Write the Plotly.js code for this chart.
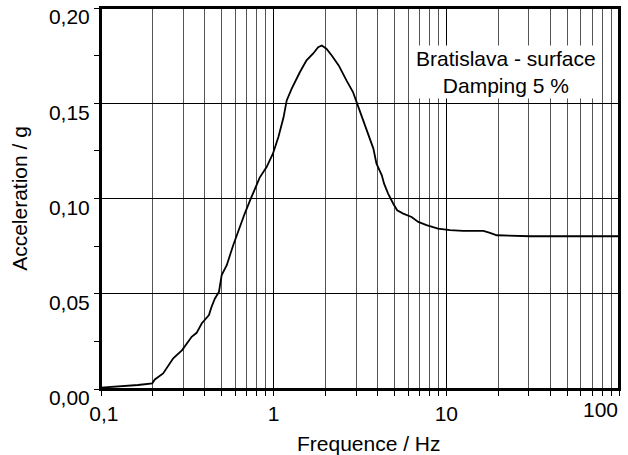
<!DOCTYPE html>
<html>
<head>
<meta charset="utf-8">
<script src="https://cdn.plot.ly/plotly-3.0.1.min.js"></script>
<style>
  html, body { margin: 0; padding: 0; background: #fff; }
  #chart { width: 628px; height: 455px; }
</style>
</head>
<body>
<div id="chart"></div>
<script>
// Response spectrum, Bratislava - surface, damping 5 %
const freq = [0.1, 0.12, 0.144, 0.164, 0.198, 0.205, 0.229, 0.24, 0.262, 0.295,
  0.335, 0.358, 0.383, 0.422, 0.437, 0.457, 0.482, 0.50, 0.535, 0.583,
  0.636, 0.68, 0.73, 0.78, 0.83, 0.91, 0.99, 1.065, 1.14, 1.19,
  1.27, 1.42, 1.55, 1.69, 1.81, 1.90, 2.02, 2.17, 2.38, 2.64,
  2.88, 3.07, 3.3, 3.53, 3.78, 3.94, 4.23, 4.36, 4.6, 4.92,
  5.19, 5.63, 6.29, 6.88, 7.68, 8.95, 10.5, 12.5, 16.4, 17.9,
  19.6, 30.6, 100];
const accel = [0.0007, 0.0012, 0.0014, 0.0021, 0.003, 0.005, 0.0082, 0.0108, 0.0161, 0.0204,
  0.0274, 0.0295, 0.0344, 0.0388, 0.0432, 0.0475, 0.051, 0.0598, 0.065, 0.0755,
  0.0851, 0.0921, 0.099, 0.105, 0.111, 0.1165, 0.1235, 0.1323, 0.1425, 0.1515,
  0.1576, 0.1664, 0.1725, 0.176, 0.1794, 0.1803, 0.1786, 0.1751, 0.1699, 0.162,
  0.1559, 0.1489, 0.141, 0.134, 0.1262, 0.1183, 0.1122, 0.1078, 0.1026, 0.0974,
  0.0938, 0.0921, 0.0903, 0.0877, 0.086, 0.0842, 0.0834, 0.083, 0.083, 0.082,
  0.0807, 0.0802, 0.0802];

const xMajorTicks = [0.1, 1, 10, 100];
const xMajorLabels = ['\u00a00,1', '1', '10', ''];
const xEdgeLabel = '100';          // last decade label, right-aligned to the axis end
const xEdgeValue = 100;
const xMinorTicks = [0.2, 0.3, 0.4, 0.5, 0.6, 0.7, 0.8, 0.9,
  2, 3, 4, 5, 6, 7, 8, 9,
  20, 30, 40, 50, 60, 70, 80, 90];
const yMajorTicks = [0, 0.05, 0.10, 0.15, 0.20];
const yMajorLabels = ['0,00', '0,05', '0,10', '0,15', '0,20'];
const yMinorTicks = [0.025, 0.075, 0.125, 0.175];

const xTitle = '&nbsp;&nbsp;&nbsp;Frequence / Hz';
const yTitle = 'Acceleration / g';
const noteText = 'Bratislava - surface<br>Damping 5 %';

const FONT = 'Liberation Sans, Arial, Helvetica, sans-serif';
const FS = 21;

const trace = {
  x: freq,
  y: accel,
  type: 'scatter',
  mode: 'lines',
  line: { color: '#000', width: 1.8 },
  hoverinfo: 'skip',
  showlegend: false
};

const layout = {
  width: 628,
  height: 455,
  margin: { l: 101, r: 9, t: 8, b: 66 },
  paper_bgcolor: '#fff',
  plot_bgcolor: '#fff',
  font: { family: FONT, size: FS, color: '#000' },
  xaxis: {
    type: 'log',
    range: [-1, 2.00001],
    tickmode: 'array',
    tickvals: xMajorTicks,
    ticktext: xMajorLabels,
    ticks: 'outside',
    ticklen: 5,
    tickwidth: 1,
    tickcolor: '#000',
    showgrid: true,
    gridcolor: '#000',
    gridwidth: 1.5,
    minor: {
      tickmode: 'array',
      tickvals: xMinorTicks,
      ticks: 'outside',
      ticklen: 5,
      tickwidth: 1,
      tickcolor: '#000',
      showgrid: true,
      gridcolor: '#555',
      gridwidth: 1
    },
    showline: true,
    linecolor: '#000',
    linewidth: 2,
    mirror: true,
    zeroline: false,
    tickfont: { family: FONT, size: FS, color: '#000' },
    title: { text: xTitle, font: { family: FONT, size: FS, color: '#000' }, standoff: 25 }
  },
  yaxis: {
    range: [0, 0.20001],
    tickmode: 'array',
    tickvals: yMajorTicks,
    ticktext: yMajorLabels,
    ticklabeloverflow: 'allow',
    ticks: 'outside',
    ticklen: 5,
    tickwidth: 1,
    tickcolor: '#000',
    ticklabelshift: 9,
    showgrid: true,
    gridcolor: '#000',
    gridwidth: 1,
    minor: {
      tickmode: 'array',
      tickvals: yMinorTicks,
      ticks: 'outside',
      ticklen: 5,
      tickwidth: 1,
      tickcolor: '#000',
      showgrid: false
    },
    showline: true,
    linecolor: '#000',
    linewidth: 2,
    mirror: true,
    zeroline: false,
    tickfont: { family: FONT, size: FS, color: '#000' },
    title: { text: yTitle, font: { family: FONT, size: FS, color: '#000' }, standoff: 16 }
  },
  shapes: [{
    type: 'rect', xref: 'paper', yref: 'paper',
    x0: 0, x1: 1, y0: 0, y1: 1,
    line: { color: '#000', width: 2 },
    fillcolor: 'rgba(0,0,0,0)',
    layer: 'above'
  }],
  annotations: [{
    xref: 'paper', yref: 'paper',
    x: 0.781, y: 0.831,
    xanchor: 'center', yanchor: 'middle',
    text: noteText,
    showarrow: false,
    align: 'center',
    bgcolor: '#fff',
    borderpad: 1,
    font: { family: FONT, size: FS, color: '#000' }
  }, {
    xref: 'x', yref: 'paper',
    x: Math.log10(xEdgeValue), y: 0,
    xanchor: 'right', yanchor: 'top',
    yshift: -8,
    text: xEdgeLabel,
    showarrow: false,
    borderpad: 0,
    font: { family: FONT, size: FS, color: '#000' }
  }]
};

Plotly.newPlot('chart', [trace], layout, { displayModeBar: false, staticPlot: true });
</script>
</body>
</html>
